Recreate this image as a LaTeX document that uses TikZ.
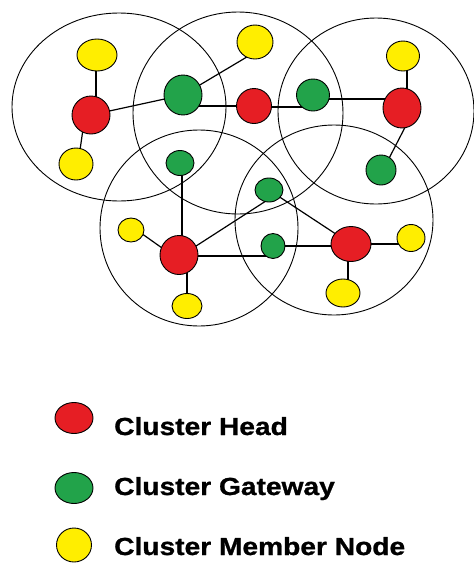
\documentclass[tikz,border=0pt]{standalone}
\usepackage{fontspec}
\newfontfamily\legfont[FakeStretch=1.14,BoldFeatures={FakeBold=1}]{Liberation Sans}
\usetikzlibrary{shapes.geometric,backgrounds}
\pgfdeclarelayer{bottom}
\pgfsetlayers{bottom,background,main}
\definecolor{chred}{RGB}{230,30,36}
\definecolor{cggreen}{RGB}{34,163,74}
\definecolor{cmyellow}{RGB}{255,238,0}
\tikzset{
  nodebase/.style={ellipse, draw=black, line width=0.9pt, inner sep=0pt},
  chead/.style={nodebase, fill=chred},
  cgate/.style={nodebase, fill=cggreen},
  cmem/.style={nodebase, fill=cmyellow},
  sz/.style 2 args={minimum width=#1pt, minimum height=#2pt},
  rangecircle/.style={draw=black, line width=0.9pt},
  linkline/.style={draw=black, line width=1.2pt},
  legtext/.style={anchor=base west, inner sep=0pt, font=\legfont\bfseries\fontsize{24.7}{28}\selectfont}
}
\begin{document}
\begin{tikzpicture}[x=1pt, y=-1pt]
\begin{pgfonlayer}{bottom}
\fill[white] (0,0) rectangle (474,563);
\end{pgfonlayer}
\useasboundingbox (0,0) rectangle (474,563);
% nodes
\node[chead, sz={38}{38}] (r1) at (91,115) {};
\node[cmem, sz={40}{32}] (y1) at (97,55) {};
\node[cmem, sz={34}{32}] (y2) at (76,164) {};
\node[cgate, sz={38}{40}] (g1) at (183,95) {};
\node[cmem, sz={36}{34}] (y3) at (255,42) {};
\node[chead, sz={35}{35}] (r2) at (254,106) {};
\node[cgate, sz={33}{32}] (g2) at (313,95) {};
\node[chead, sz={38}{40}] (r3) at (402,108) {};
\node[cmem, sz={33}{30}] (y4) at (403,56) {};
\node[cgate, sz={30}{30}] (g3) at (381,170) {};
\node[cgate, sz={28}{25}] (g4) at (180,163) {};
\node[cgate, sz={28}{24}] (g5) at (269,190) {};
\node[cgate, sz={24}{25}] (g6) at (273,246) {};
\node[chead, sz={38}{39}] (r4) at (179,255) {};
\node[cmem, sz={26}{24}] (y5) at (131,230) {};
\node[cmem, sz={30}{25}] (y6) at (187,306) {};
\node[chead, sz={40}{35}] (r5) at (351,244) {};
\node[cmem, sz={28}{27}] (y7) at (411,238) {};
\node[cmem, sz={34}{28}] (y8) at (343,293) {};
\begin{scope}[on background layer]
  % cluster ranges
  \draw[rangecircle] (119,107) ellipse [x radius=107pt, y radius=94pt];
  \draw[rangecircle] (238,113) ellipse [x radius=105pt, y radius=101pt];
  \draw[rangecircle] (376,111) ellipse [x radius=98pt, y radius=93pt];
  \draw[rangecircle] (199,228) ellipse [x radius=99pt, y radius=98pt];
  \draw[rangecircle] (334,220) ellipse [x radius=99pt, y radius=95pt];
  % links
  \draw[linkline] ([xshift=-1pt]y1.center) -- ++(0,60);
  \draw[linkline] ([xshift=-6pt]r1.center) -- ([xshift=2pt]y2.center);
  \draw[linkline] (r1.center) -- (g1.center);
  \draw[linkline] (g1.center) -- ([xshift=17pt]y3.center);
  \draw[linkline] ([yshift=-11pt]g1.center) -- ++(71,0);
  \draw[linkline] ([yshift=-1pt]r2.center) -- ++(59,0);
  \draw[linkline] ([yshift=-4pt]g2.center) -- ++(89,0);
  \draw[linkline] ([xshift=4pt]y4.center) -- ++(0,52);
  \draw[linkline] ([xshift=13pt]r3.center) -- ([xshift=2pt]g3.center);
  \draw[linkline] ([xshift=2pt]g4.center) -- ++(0,92);
  \draw[linkline] ([yshift=4pt]y5.center) -- ([yshift=-5pt]r4.center);
  \draw[linkline] (y6.center) -- ++(0,-51);
  \draw[linkline] ([yshift=-2pt]r4.center) -- ([yshift=-9pt]g5.center);
  \draw[linkline] ([yshift=-1pt]r4.center) -- ++(94,0);
  \draw[linkline] (g6.center) -- ++(78,0);
  \draw[linkline] (g5.center) -- (r5.center);
  \draw[linkline] (r5.center) -- ++(60,0);
  \draw[linkline] ([xshift=-3pt]r5.center) -- ++(0,49);
\end{scope}
% legend
\node[chead, sz={38}{31}] (lh) at (74,418) {};
\node[cgate, sz={38}{31}] (lg) at (74,488) {};
\node[cmem, sz={35}{34}] (lm) at (74,545) {};
\node[legtext] (th) at (114,435) {Cluster Head};
\node[legtext] (tg) at (114,495) {Cluster Gateway};
\node[legtext] (tm) at (114,555) {Cluster Member Node};
\end{tikzpicture}
\end{document}
